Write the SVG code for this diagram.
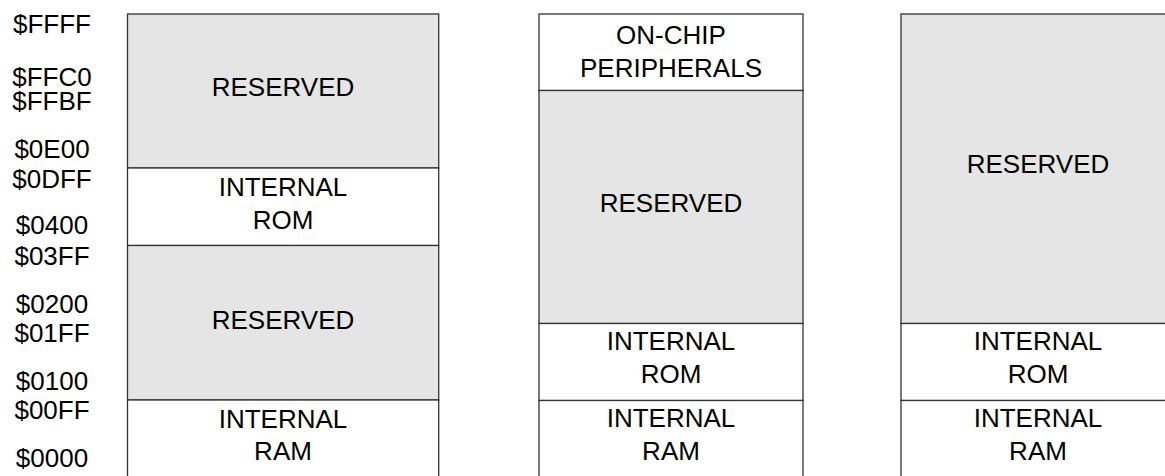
<svg xmlns="http://www.w3.org/2000/svg" width="1165" height="476" viewBox="0 0 1165 476">
<style>
.t{font-family:"Liberation Sans",Arial,sans-serif;font-size:26px;fill:#000;text-anchor:middle}
.res{fill:#e5e5e5;stroke:#333;stroke-width:1.3}
.wh{fill:#fff;stroke:#333;stroke-width:1.3}
</style>
<rect width="1165" height="476" fill="#fff"/>
<g id="addresses">
<text class="t" x="52" y="33">$FFFF</text>
<text class="t" x="52" y="86">$FFC0</text>
<text class="t" x="52" y="110">$FFBF</text>
<text class="t" x="52" y="158">$0E00</text>
<text class="t" x="52" y="187.5">$0DFF</text>
<text class="t" x="52" y="234">$0400</text>
<text class="t" x="52" y="265">$03FF</text>
<text class="t" x="52" y="312.5">$0200</text>
<text class="t" x="52" y="342">$01FF</text>
<text class="t" x="52" y="390">$0100</text>
<text class="t" x="52" y="418.5">$00FF</text>
<text class="t" x="52" y="467">$0000</text>
</g>
<g id="map1">
<g id="m1-reserved-top"><rect class="res" x="127.5" y="14" width="311.2" height="154"/><text class="t" x="283" y="96">RESERVED</text></g>
<g id="m1-rom"><rect class="wh" x="127.5" y="168" width="311.2" height="77.5"/><text class="t" x="283" y="196">INTERNAL</text><text class="t" x="283" y="229">ROM</text></g>
<g id="m1-reserved-low"><rect class="res" x="127.5" y="245.5" width="311.2" height="154.5"/><text class="t" x="283" y="329">RESERVED</text></g>
<g id="m1-ram"><rect class="wh" x="127.5" y="400" width="311.2" height="90"/><text class="t" x="283" y="427.5">INTERNAL</text><text class="t" x="283" y="460">RAM</text></g>
</g>
<g id="map2">
<g id="m2-periph"><rect class="wh" x="539" y="14" width="264" height="76.5"/><text class="t" x="671" y="43.5">ON-CHIP</text><text class="t" x="671" y="76.5">PERIPHERALS</text></g>
<g id="m2-reserved"><rect class="res" x="539" y="90.5" width="264" height="233"/><text class="t" x="671" y="212">RESERVED</text></g>
<g id="m2-rom"><rect class="wh" x="539" y="323.5" width="264" height="77"/><text class="t" x="671" y="350">INTERNAL</text><text class="t" x="671" y="382.5">ROM</text></g>
<g id="m2-ram"><rect class="wh" x="539" y="400.5" width="264" height="90"/><text class="t" x="671" y="427">INTERNAL</text><text class="t" x="671" y="460">RAM</text></g>
</g>
<g id="map3">
<g id="m3-reserved"><rect class="res" x="901" y="14" width="275" height="309.5"/><text class="t" x="1038" y="173">RESERVED</text></g>
<g id="m3-rom"><rect class="wh" x="901" y="323.5" width="275" height="77"/><text class="t" x="1038" y="350">INTERNAL</text><text class="t" x="1038" y="382.5">ROM</text></g>
<g id="m3-ram"><rect class="wh" x="901" y="400.5" width="275" height="90"/><text class="t" x="1038" y="427">INTERNAL</text><text class="t" x="1038" y="460">RAM</text></g>
</g>
</svg>
